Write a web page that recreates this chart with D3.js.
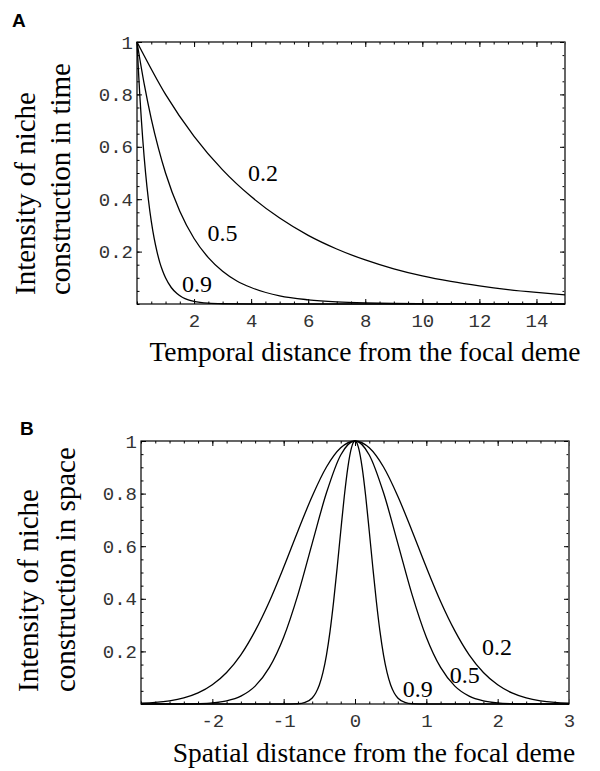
<!DOCTYPE html>
<html>
<head>
<meta charset="utf-8">
<script src="https://cdn.jsdelivr.net/npm/d3@7"></script>
<style>
  body { margin: 0; background: #fff; }
</style>
</head>
<body>
<div id="chart"></div>
<script>
// ---- data ----
// A: intensity over time, one curve per parameter
var timeT02 = [0, 1, 2, 3, 4, 5, 6, 7, 8, 9, 10, 11, 12, 13, 14, 15];
var timeI02 = [1, 0.8, 0.64, 0.512, 0.41, 0.328, 0.262, 0.21, 0.168, 0.134, 0.107, 0.086, 0.069, 0.055, 0.044, 0.035];
var timeT05 = [0, 0.25, 0.5, 0.75, 1, 1.5, 2, 2.5, 3, 3.5, 4, 5, 6, 7, 8, 9, 10, 12, 15];
var timeI05 = [1, 0.841, 0.707, 0.595, 0.5, 0.354, 0.25, 0.177, 0.125, 0.088, 0.063, 0.031, 0.016, 0.008, 0.004, 0.002, 0.001, 0.0002, 0];
var timeT09 = [0, 0.05, 0.1, 0.15, 0.2, 0.3, 0.4, 0.5, 0.6, 0.7, 0.8, 0.9, 1, 1.2, 1.4, 1.6, 1.8, 2, 2.5, 3, 4, 15];
var timeI09 = [1, 0.891, 0.794, 0.708, 0.631, 0.501, 0.398, 0.316, 0.251, 0.2, 0.158, 0.126, 0.1, 0.063, 0.04, 0.025, 0.016, 0.01, 0.003, 0.001, 0, 0];

// B: intensity over space
var spaceX = [-3, -2.8, -2.6, -2.4, -2.2, -2, -1.8, -1.6, -1.4, -1.2, -1, -0.8, -0.6, -0.4, -0.2, 0,
              0.2, 0.4, 0.6, 0.8, 1, 1.2, 1.4, 1.6, 1.8, 2, 2.2, 2.4, 2.6, 2.8, 3];
var spaceI02 = [0.003, 0.006, 0.012, 0.023, 0.042, 0.073, 0.12, 0.187, 0.278, 0.39, 0.52, 0.658, 0.79, 0.901, 0.974, 1,
                0.974, 0.901, 0.79, 0.658, 0.52, 0.39, 0.278, 0.187, 0.12, 0.073, 0.042, 0.023, 0.012, 0.006, 0.003];
var spaceI05 = [0, 0, 0, 0, 0.001, 0.004, 0.012, 0.03, 0.068, 0.139, 0.254, 0.416, 0.611, 0.803, 0.947, 1,
                0.947, 0.803, 0.611, 0.416, 0.254, 0.139, 0.068, 0.03, 0.012, 0.004, 0.001, 0, 0, 0, 0];
var spaceX09 = [-3, -1, -0.8, -0.7, -0.6, -0.55, -0.5, -0.45, -0.4, -0.35, -0.3, -0.25, -0.2, -0.15, -0.1, -0.05, 0,
                0.05, 0.1, 0.15, 0.2, 0.25, 0.3, 0.35, 0.4, 0.45, 0.5, 0.55, 0.6, 0.7, 0.8, 1, 3];
var spaceI09 = [0, 0, 0.001, 0.006, 0.023, 0.042, 0.072, 0.119, 0.186, 0.276, 0.389, 0.519, 0.657, 0.79, 0.9, 0.974, 1,
                0.974, 0.9, 0.79, 0.657, 0.519, 0.389, 0.276, 0.186, 0.119, 0.072, 0.042, 0.023, 0.006, 0.001, 0, 0];

// curve labels (in data units)
var curveNames = ['0.2', '0.5', '0.9'];
var timeLabelX = [4.42, 3.0, 2.1];
var timeLabelY = [0.5, 0.27, 0.075];
var spaceLabelX = [1.99, 1.54, 0.88];
var spaceLabelY = [0.217, 0.11, 0.057];

// ticks
var yTicks = [0.2, 0.4, 0.6, 0.8, 1];
var yTickLabels = ['0.2', '0.4', '0.6', '0.8', '1'];
var timeTicks = [2, 4, 6, 8, 10, 12, 14];
var timeTickLabels = ['2', '4', '6', '8', '10', '12', '14'];
var spaceTicks = [-2, -1, 0, 1, 2, 3];
var spaceTickLabels = ['-2', '-1', '0', '1', '2', '3'];

var SERIF = '"Liberation Serif", "Times New Roman", serif';
var MONO = '"Liberation Mono", "Courier New", monospace';

var svg = d3.select('#chart').append('svg').attr('width', 600).attr('height', 771);

function drawPanel(p) {
  var x = d3.scaleLinear().domain(p.xDomain).range([p.left, p.right]);
  var y = d3.scaleLinear().domain([0, 1]).range([p.bottom, p.top]);
  var g = svg.append('g');

  var xMinor = d3.range(p.xDomain[0], p.xDomain[1] + 1e-9, p.xMinorStep);
  var yMinor = d3.range(0, 1.0001, 0.05);

  function styleAxis(sel) {
    sel.select('.domain').remove();
    sel.selectAll('.tick line').attr('stroke', '#000').attr('stroke-width', 1);
    sel.selectAll('.tick text').attr('fill', '#333').attr('font-family', MONO).attr('font-size', '19px');
  }

  // minor ticks on all four sides
  g.append('g').attr('transform', 'translate(0,' + p.bottom + ')')
    .call(d3.axisBottom(x).tickValues(xMinor).tickSize(-2.5).tickFormat('')).call(styleAxis);
  g.append('g').attr('transform', 'translate(0,' + p.top + ')')
    .call(d3.axisTop(x).tickValues(xMinor).tickSize(-2.5).tickFormat('')).call(styleAxis);
  g.append('g').attr('transform', 'translate(' + p.left + ',0)')
    .call(d3.axisLeft(y).tickValues(yMinor).tickSize(-2.5).tickFormat('')).call(styleAxis);
  g.append('g').attr('transform', 'translate(' + p.right + ',0)')
    .call(d3.axisRight(y).tickValues(yMinor).tickSize(-2.5).tickFormat('')).call(styleAxis);

  // major ticks
  g.append('g').attr('transform', 'translate(0,' + p.bottom + ')')
    .call(d3.axisBottom(x).tickValues(p.xTicks).tickSize(-5).tickPadding(10)
      .tickFormat(function(d, i) { return p.xTickLabels[i]; }))
    .call(styleAxis);
  g.append('g').attr('transform', 'translate(0,' + p.top + ')')
    .call(d3.axisTop(x).tickValues(p.xTicks).tickSize(-5).tickFormat('')).call(styleAxis);
  g.append('g').attr('transform', 'translate(' + p.left + ',0)')
    .call(d3.axisLeft(y).tickValues(yTicks).tickSize(-5).tickPadding(4)
      .tickFormat(function(d, i) { return yTickLabels[i]; }))
    .call(styleAxis);
  g.append('g').attr('transform', 'translate(' + p.right + ',0)')
    .call(d3.axisRight(y).tickValues(yTicks).tickSize(-5).tickFormat('')).call(styleAxis);

  // frame
  g.append('rect')
    .attr('x', p.left).attr('y', p.top)
    .attr('width', p.right - p.left).attr('height', p.bottom - p.top)
    .attr('fill', 'none').attr('stroke', '#000').attr('stroke-width', 1.2);
  g.append('line')
    .attr('x1', p.right).attr('x2', p.right).attr('y1', p.top).attr('y2', p.bottom)
    .attr('stroke', '#666').attr('stroke-width', 1.6);

  // curves
  var line = d3.line()
    .x(function(d) { return x(d[0]); })
    .y(function(d) { return y(d[1]); })
    .curve(d3.curveMonotoneX);
  p.series.forEach(function(s) {
    g.append('path')
      .attr('d', line(d3.zip(s[0], s[1])))
      .attr('fill', 'none').attr('stroke', '#000').attr('stroke-width', 1.3);
  });

  // curve labels
  curveNames.forEach(function(name, i) {
    g.append('text')
      .attr('x', x(p.labelX[i])).attr('y', y(p.labelY[i]))
      .attr('text-anchor', 'middle').attr('dominant-baseline', 'central')
      .attr('font-family', SERIF).attr('font-size', '24px').attr('fill', '#000')
      .text(name);
  });

  // y title (two lines, rotated)
  p.yTitle.forEach(function(t, i) {
    g.append('text')
      .attr('transform', 'translate(' + p.yTitleX[i] + ',' + p.yTitleBottom + ') rotate(-90)')
      .attr('text-anchor', 'start')
      .attr('font-family', SERIF).attr('font-size', '29px').attr('fill', '#000')
      .text(t);
  });

  // x title
  g.append('text')
    .attr('x', p.xTitleX).attr('y', p.xTitleY)
    .attr('text-anchor', 'middle')
    .attr('font-family', SERIF).attr('font-size', '27.5px').attr('fill', '#000')
    .text(p.xTitle);

  // panel letter
  svg.append('text')
    .attr('x', p.letterX).attr('y', p.letterY)
    .attr('font-family', '"Liberation Sans", Arial, sans-serif').attr('font-weight', 'bold')
    .attr('font-size', '19px').attr('fill', '#000')
    .text(p.letter);
}

drawPanel({
  letter: 'A', letterX: 12, letterY: 27,
  left: 137, right: 565, top: 42, bottom: 304,
  xDomain: [0, 15], xMinorStep: 0.5,
  xTicks: timeTicks, xTickLabels: timeTickLabels,
  series: [[timeT02, timeI02], [timeT05, timeI05], [timeT09, timeI09]],
  labelX: timeLabelX, labelY: timeLabelY,
  yTitle: ['Intensity of niche', 'construction in time'],
  yTitleX: [35, 70], yTitleBottom: 295,
  xTitle: 'Temporal distance from the focal deme', xTitleX: 365, xTitleY: 361
});

drawPanel({
  letter: 'B', letterX: 20, letterY: 435,
  left: 141, right: 569, top: 441, bottom: 704,
  xDomain: [-3, 3], xMinorStep: 0.2,
  xTicks: spaceTicks, xTickLabels: spaceTickLabels,
  series: [[spaceX, spaceI02], [spaceX, spaceI05], [spaceX09, spaceI09]],
  labelX: spaceLabelX, labelY: spaceLabelY,
  yTitle: ['Intensity of niche', 'construction in space'],
  yTitleX: [38, 75], yTitleBottom: 692,
  xTitle: 'Spatial distance from the focal deme', xTitleX: 374, xTitleY: 762
});
</script>
</body>
</html>
